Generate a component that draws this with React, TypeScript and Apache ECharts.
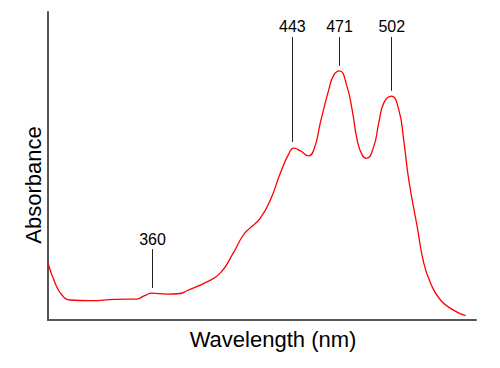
import React, { useEffect, useRef } from "react";
import * as echarts from "echarts";

// Spectrum (wavelength in nm, relative absorbance 0..1)
const wavelengths = [298.0, 302.2, 306.3, 311.1, 323.0, 337.9, 350.6, 355.0, 359.6, 368.5, 376.5, 380.4, 392.3, 400.2, 408.0, 413.9, 418.0, 424.0, 430.0, 435.9, 440.6, 443.9, 447.8, 452.7, 456.1, 459.6, 464.6, 467.6, 471.0, 475.5, 478.5, 481.5, 484.4, 487.0, 491.3, 494.3, 497.3, 501.8, 506.2, 509.1, 512.1, 517.1, 521.0, 525.0, 530.9, 538.6, 545.8];
const absorbance = [0.185, 0.120, 0.081, 0.065, 0.063, 0.067, 0.068, 0.078, 0.087, 0.084, 0.086, 0.095, 0.124, 0.152, 0.218, 0.276, 0.299, 0.331, 0.390, 0.477, 0.536, 0.558, 0.549, 0.533, 0.558, 0.640, 0.747, 0.795, 0.809, 0.757, 0.682, 0.584, 0.536, 0.525, 0.563, 0.640, 0.705, 0.727, 0.682, 0.584, 0.455, 0.303, 0.185, 0.120, 0.065, 0.032, 0.014];

// Peak annotations
const peakWavelengths = [360, 443, 471, 502];
const leaderBottom = [0.104, 0.578, 0.825, 0.744];
const leaderTop = [0.23, 0.919, 0.919, 0.919];

const xTitle = "Wavelength (nm)";
const yTitle = "Absorbance";

export default function App() {
  const ref = useRef<HTMLDivElement>(null);
  useEffect(() => {
    if (!ref.current) return;
    const chart = echarts.init(ref.current, null, { renderer: "svg" });
    const font = "Liberation Sans, Arial, sans-serif";
    chart.setOption({
      animation: false,
      grid: { left: 48, right: 24, top: 12, bottom: 48 },
      xAxis: {
        type: "value",
        min: 298,
        max: 552,
        axisLine: { show: true, lineStyle: { color: "#555", width: 2 } },
        axisTick: { show: false },
        axisLabel: { show: false },
        splitLine: { show: false },
      },
      yAxis: {
        type: "value",
        min: 0,
        max: 1,
        axisLine: { show: true, lineStyle: { color: "#555", width: 2 } },
        axisTick: { show: false },
        axisLabel: { show: false },
        splitLine: { show: false },
      },
      series: [
        {
          type: "line",
          data: wavelengths.map((w, i) => [w, absorbance[i]]),
          smooth: 0.5,
          showSymbol: false,
          lineStyle: { color: "#ff0000", width: 1.3 },
          markLine: {
            silent: true,
            symbol: ["none", "none"],
            lineStyle: { color: "#222", width: 1, type: "solid" },
            label: {
              show: true,
              position: "end",
              distance: 2,
              color: "#000",
              fontSize: 16,
              fontFamily: font,
            },
            data: peakWavelengths.map((w, i) => [
              { coord: [w, leaderBottom[i]] },
              { coord: [w, leaderTop[i]], label: { formatter: String(w) } },
            ]),
          },
        },
      ],
      graphic: [
        {
          type: "text",
          x: 273,
          y: 339,
          style: {
            text: xTitle,
            fontSize: 22,
            fontFamily: font,
            fill: "#000",
            align: "center",
            verticalAlign: "middle",
          },
        },
        {
          type: "text",
          x: 33,
          y: 185,
          rotation: Math.PI / 2,
          style: {
            text: yTitle,
            fontSize: 22,
            fontFamily: font,
            fill: "#000",
            align: "center",
            verticalAlign: "middle",
          },
        },
      ],
    });
    return () => chart.dispose();
  }, []);
  return (
    <div
      ref={ref}
      style={{ position: "absolute", left: 0, top: 0, width: 500, height: 368 }}
    />
  );
}
